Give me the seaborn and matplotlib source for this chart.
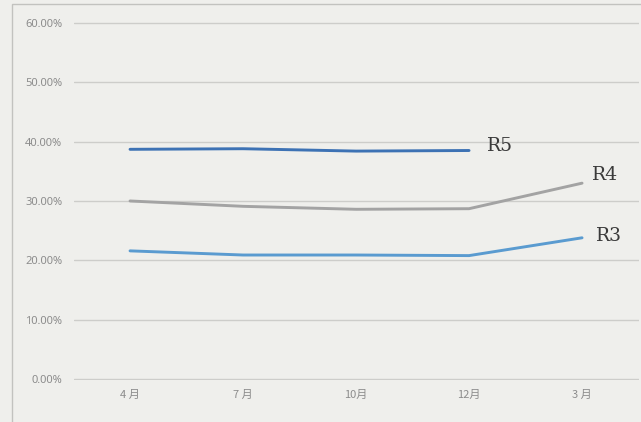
import matplotlib
matplotlib.use("Agg")
import matplotlib.pyplot as plt
import numpy as np
import pandas as pd
import seaborn as sns

# Survey periods and the three yearly series (percent)
months = ["4 月", "7 月", "10月", "12月", "3 月"]
r5 = [38.7, 38.8, 38.4, 38.5, np.nan]
r4 = [30.0, 29.1, 28.6, 28.7, 33.0]
r3 = [21.6, 20.9, 20.9, 20.8, 23.8]
series_names = ["R5", "R4", "R3"]
yticks = [0, 10, 20, 30, 40, 50, 60]

colors = {"R5": "#3d72b4", "R4": "#a3a3a3", "R3": "#5a9bd0"}
label_offsets = {"R5": (13, 3), "R4": (7, 6), "R3": (10, 1)}
bg = "#efefec"

sns.set_theme(style="white")
plt.rcParams["font.family"] = ["Noto Sans CJK JP", "DejaVu Sans"]

rows = []
for name, vals in zip(series_names, [r5, r4, r3]):
    for i, (m, v) in enumerate(zip(months, vals)):
        rows.append({"idx": i, "month": m, "value": v, "series": name})
df = pd.DataFrame(rows).dropna()

fig = plt.figure(figsize=(6.41, 4.22), dpi=100, facecolor=bg)
ax = fig.add_axes([0.1147, 0.0995, 0.8815, 0.8485])
ax.set_facecolor(bg)

sns.lineplot(data=df, x="idx", y="value", hue="series", palette=colors,
             linewidth=2.1, legend=False, ax=ax, sort=False)

ax.set_xlim(-0.5, len(months) - 0.5)
ax.set_ylim(-0.15, 60.15)
ax.set_yticks(yticks)
ax.set_yticklabels([f"{t:.2f}%" for t in yticks], fontsize=8, color="#8c8c8c",
                   family=["Noto Sans", "DejaVu Sans"])
ax.set_xticks(range(len(months)))
ax.set_xticklabels(months, fontsize=8, color="#8c8c8c")
ax.tick_params(axis="y", length=0, pad=8)
ax.tick_params(axis="x", length=0, pad=7)
ax.set_xlabel("")
ax.set_ylabel("")
for s in ax.spines.values():
    s.set_visible(False)
ax.yaxis.grid(True, color="#cdcdca", linewidth=1.0)
ax.set_axisbelow(True)

# Series labels placed at the end of each line
for name, vals in zip(series_names, [r5, r4, r3]):
    last = max(i for i, v in enumerate(vals) if not np.isnan(v))
    ax.annotate(name, (last, vals[last]), xytext=label_offsets[name],
                textcoords="offset points", fontsize=13.5,
                family=["DejaVu Serif"], color="#3a3a3a",
                va="center", ha="left", annotation_clip=False)

# Thin frame around the chart area
frame = plt.Rectangle((12 / 641, -0.01), 1.0, 1.0, transform=fig.transFigure,
                      fill=False, edgecolor="#c2c2bf", linewidth=1.0)
fig.patches.append(frame)

fig.savefig("out.png", dpi=100, facecolor=bg)
